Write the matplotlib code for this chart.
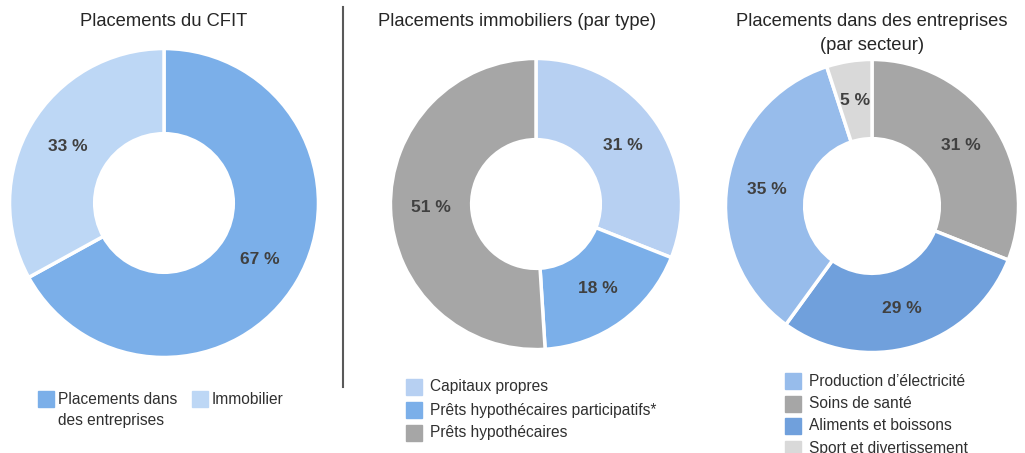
import matplotlib.pyplot as plt
from matplotlib.patches import Rectangle
from matplotlib.lines import Line2D

plt.rcParams['font.family'] = ['Liberation Sans', 'DejaVu Sans']

W, H = 1025, 453

# chart 1
cfit_labels = ['Placements dans\ndes entreprises', 'Immobilier']
cfit_values = [67, 33]
cfit_colors = ['#7BAFE9', '#BDD7F5']

# chart 2
immo_labels = ['Capitaux propres', 'Prêts hypothécaires participatifs*', 'Prêts hypothécaires']
immo_values = [31, 18, 51]
immo_colors = ['#B7D0F2', '#7BAFE9', '#A6A6A6']

# chart 3
sect_labels = ['Soins de santé', 'Aliments et boissons', 'Production d\u2019électricité', 'Sport et divertissement']
sect_values = [31, 29, 35, 5]
sect_colors = ['#A6A6A6', '#70A0DC', '#97BCEB', '#D9D9D9']
sect_legend_order = [2, 0, 1, 3]

fig = plt.figure(figsize=(W / 100, H / 100), dpi=100)


def donut(cx, cy, r, hole, values, colors):
    ax = fig.add_axes([(cx - r) / W, (H - cy - r) / H, 2 * r / W, 2 * r / H])
    inner = hole / r
    ax.pie(values, colors=colors, startangle=90, counterclock=False, radius=1,
           wedgeprops=dict(width=1 - inner, edgecolor='white', linewidth=2.5),
           autopct=lambda p: f'{p:.0f} %', pctdistance=(1 + inner) / 2,
           textprops=dict(fontsize=12.5, fontweight='bold', color='#404040'))
    ax.set_xlim(-1.01, 1.01)
    ax.set_ylim(-1.01, 1.01)
    ax.set_aspect('equal')
    ax.axis('off')
    return ax


def legend_item(x, y, color, text, gap=24):
    fig.add_artist(Rectangle((x / W, (H - y - 8) / H), 16 / W, 16 / H,
                             transform=fig.transFigure, color=color))
    if text:
        fig.text((x + gap) / W, (H - y) / H, text, fontsize=11.2, color='#303030', va='center')


donut(164, 203, 156, 70, cfit_values, cfit_colors)
donut(536, 204, 147, 65, immo_values, immo_colors)
donut(872, 206, 148, 68, sect_values, sect_colors)

title_kw = dict(fontsize=13.2, ha='center', va='center', color='#262626')
fig.text(164 / W, (H - 22) / H, 'Placements du CFIT', **title_kw)
fig.text(517 / W, (H - 22) / H, 'Placements immobiliers (par type)', **title_kw)
fig.text(872 / W, (H - 22) / H, 'Placements dans des entreprises', **title_kw)
fig.text(872 / W, (H - 45) / H, '(par secteur)', **title_kw)

fig.add_artist(Line2D([343 / W, 343 / W], [(H - 7) / H, (H - 387) / H], color='#595959', linewidth=1.5))

# legends
legend_item(38, 399, cfit_colors[0], '')
first, second = cfit_labels[0].split('\n')
fig.text(58 / W, (H - 399) / H, first, fontsize=11.2, color='#303030', va='center')
fig.text(58 / W, (H - 421) / H, second, fontsize=11.2, color='#303030', va='center')
legend_item(192, 399, cfit_colors[1], cfit_labels[1], gap=20)

for i, lab in enumerate(immo_labels):
    legend_item(406, 387 + i * 23, immo_colors[i], lab)

for i, k in enumerate(sect_legend_order):
    legend_item(785, 381 + i * 22.5, sect_colors[k], sect_labels[k])

fig.savefig('out.png', dpi=100)
